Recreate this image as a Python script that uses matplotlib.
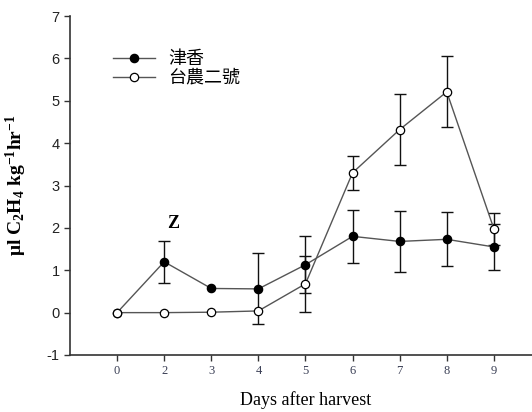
import matplotlib
matplotlib.use("Agg")
import matplotlib.pyplot as plt
from matplotlib.lines import Line2D
import numpy as np

plt.rcParams['mathtext.fontset'] = 'custom'
plt.rcParams['mathtext.rm'] = 'Liberation Serif'
plt.rcParams['mathtext.bf'] = 'Liberation Serif:bold'
plt.rcParams['mathtext.it'] = 'Liberation Serif:italic'
plt.rcParams['mathtext.default'] = 'bf'

days = ["0", "2", "3", "4", "5", "6", "7", "8", "9"]
jinxiang = [0.0, 1.20, 0.57, 0.56, 1.13, 1.80, 1.68, 1.73, 1.55]
jinxiang_err = [0.0, 0.50, 0.0, 0.84, 0.67, 0.63, 0.72, 0.64, 0.55]
tainung2 = [0.0, 0.0, 0.01, 0.04, 0.68, 3.30, 4.32, 5.21, 1.98]
tainung2_err = [0.0, 0.0, 0.0, 0.0, 0.66, 0.40, 0.84, 0.84, 0.38]
series_names = ["津香", "台農二號"]
yticks = [-1, 0, 1, 2, 3, 4, 5, 6, 7]

fig = plt.figure(figsize=(5.32, 4.12), dpi=100)
ax = fig.add_axes([70/532, 57/412, 1 - 70/532, 339/412])

x = np.arange(len(days))
styles = [dict(mfc='black'), dict(mfc='white')]
handles = []
for vals, errs, st, name in [(jinxiang, jinxiang_err, styles[0], series_names[0]),
                             (tainung2, tainung2_err, styles[1], series_names[1])]:
    v = np.array(vals)
    e = np.array(errs)
    m = e > 0
    ax.errorbar(x[m], v[m], yerr=e[m], fmt='none', ecolor='#111111', elinewidth=1.0,
                capsize=4.3, capthick=1.0, zorder=2)
    ax.plot(x, v, '-', color='#555555', lw=1.0, zorder=3)
    ax.plot(x, v, 'o', ms=6, mec='black', mew=0.9, zorder=4, **st)
    handles.append(Line2D([], [], color='#555555', lw=1.0, marker='o', ms=6,
                          mec='black', mew=0.9, label=name, **st))

ax.set_xlim(-1, 8.81)
ax.set_ylim(-1, 7)
ax.set_xticks(x)
ax.set_xticklabels(days, fontfamily='Liberation Serif', fontsize=9, color='#3a3f55')
ax.set_yticks(yticks)
ax.set_yticklabels([str(v) for v in yticks], fontfamily='Liberation Sans', fontsize=10.5, color='#222222')
ax.tick_params(direction='out', length=4, width=1.0, color='#333333')
for s in ['top', 'right']:
    ax.spines[s].set_visible(False)
for s in ['left', 'bottom']:
    ax.spines[s].set_color('#333333')
    ax.spines[s].set_linewidth(1.2)

ax.set_xlabel("Days after harvest", fontfamily='Liberation Serif', fontsize=13)
ax.set_ylabel(r"μl C$_2$H$_4$ kg$^{-1}$hr$^{-1}$", fontfamily='Liberation Serif',
              fontweight='bold', fontsize=14)
ax.xaxis.set_label_coords((306 - 70) / 462, -36 / 339)
ax.yaxis.set_label_coords(-41 / 462, 0.5)

ax.text(1.2, 2.1, "Z", fontfamily='Liberation Serif', fontweight='bold', fontsize=13,
        ha='center', va='center')

leg = ax.legend(handles=handles, loc='upper left', bbox_to_anchor=(43/462, 1 - 34/339), frameon=False,
                prop={'family': ['Noto Sans CJK TC', 'DejaVu Sans'], 'size': 13},
                handlelength=2.3, handletextpad=0.75, labelspacing=0.05, borderaxespad=0,
                borderpad=0)

fig.savefig("out.png", dpi=100)
